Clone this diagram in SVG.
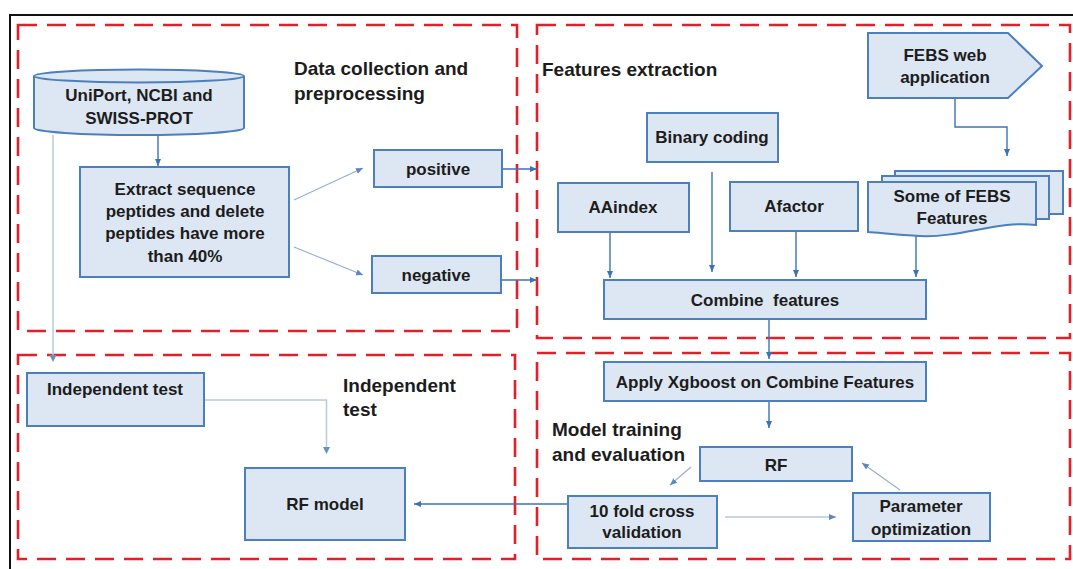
<svg xmlns="http://www.w3.org/2000/svg" width="1073" height="569" viewBox="0 0 1073 569">
<defs>
<style>
.frame{fill:none;stroke:#111;stroke-width:2}
.grp{fill:none;stroke:#e3202a;stroke-width:2.6;stroke-dasharray:19 10}
.box{fill:#dce7f3;stroke:#4b7fbd;stroke-width:2}
.t{font-family:"Liberation Sans",Arial,sans-serif;font-weight:bold;font-size:17px;fill:#1c1c1c;text-anchor:middle}
.title{font-family:"Liberation Sans",Arial,sans-serif;font-weight:bold;font-size:19px;fill:#1c1c1c}
.ar{fill:none;stroke:#3b72b8;stroke-width:1.4;marker-end:url(#ah)}
.lt{fill:none;stroke:#93add2;stroke-width:1.1;marker-end:url(#ah2)}
.vl{fill:none;stroke:#b9cae0;stroke-width:1.5}
</style>
<marker id="ah" markerUnits="userSpaceOnUse" markerWidth="8" markerHeight="8" refX="7" refY="4" orient="auto"><path d="M0,1 L7,4 L0,7 z" fill="#3b72b8"/></marker>
<marker id="ah2" markerUnits="userSpaceOnUse" markerWidth="8" markerHeight="8" refX="7" refY="4" orient="auto"><path d="M0,1 L7,4 L0,7 z" fill="#5d86bf"/></marker>
</defs>
<rect width="1073" height="569" fill="#fff"/>
<path class="frame" d="M10,569 V15 H1073"/>
<g id="groups">
<rect class="grp" x="18" y="25" width="499" height="306"/>
<rect class="grp" x="537" y="25" width="533" height="313"/>
<rect class="grp" x="18" y="355" width="497" height="204"/>
<rect class="grp" x="537" y="353" width="533" height="206"/>
</g>
<g id="titles">
<text class="title" x="294" y="75">Data collection and</text>
<text class="title" x="294" y="100">preprocessing</text>
<text class="title" x="542" y="76">Features extraction</text>
<text class="title" x="343" y="392">Independent</text>
<text class="title" x="343" y="416">test</text>
<text class="title" x="552" y="436">Model training</text>
<text class="title" x="552" y="461">and evaluation</text>
</g>
<g id="connectors">
<path class="vl" d="M53,135 V356"/>
<path d="M49.5,355 L53,362 L56.5,355 z" fill="#6a8fc2"/>
<path class="ar" d="M158,133 V166"/>
<path class="lt" d="M294,200 L363,168"/>
<path class="lt" d="M294,247 L363,275"/>
<path class="ar" d="M502,169 H537"/>
<path class="ar" d="M502,280 H537"/>
<path class="ar" d="M955,98 V127 H1007 V156"/>
<path class="ar" d="M610,232 V278"/>
<path class="ar" d="M712,172 V272"/>
<path class="ar" d="M796,231 V277"/>
<path class="ar" d="M916,236 V277"/>
<path class="ar" d="M769,319 V359"/>
<path class="ar" d="M769,401 V428"/>
<path class="lt" d="M691,467 L670,485"/>
<path class="lt" d="M725,517 H836"/>
<path class="lt" d="M900,490 L862,463"/>
<path class="ar" d="M568,504 H414"/>
<path class="vl" d="M204,400 H326.5 V448"/>
<path d="M323,447 L326.5,454 L330,447 z" fill="#6a8fc2"/>
</g>
<g id="db">
<path class="box" d="M34,76 V128 A105,7 0 0 0 244,128 V76"/>
<ellipse class="box" cx="139" cy="76" rx="105" ry="6.5"/>
<text class="t" x="139" y="101">UniPort, NCBI and</text>
<text class="t" x="139" y="124">SWISS-PROT</text>
</g>
<g id="extract">
<rect class="box" x="80" y="167" width="209" height="110"/>
<text class="t" x="185" y="195">Extract sequence</text>
<text class="t" x="185" y="217">peptides and delete</text>
<text class="t" x="185" y="239">peptides have more</text>
<text class="t" x="185" y="262">than 40%</text>
</g>
<g id="positive">
<rect class="box" x="374" y="150" width="128" height="37"/>
<text class="t" x="438" y="175">positive</text>
</g>
<g id="negative">
<rect class="box" x="372" y="256" width="129" height="37"/>
<text class="t" x="436" y="281">negative</text>
</g>
<g id="febs-web">
<path class="box" d="M868,33 H1008 L1042,66 L1008,98 H868 Z"/>
<text class="t" x="945" y="61">FEBS web</text>
<text class="t" x="945" y="83">application</text>
</g>
<g id="binary">
<rect class="box" x="647" y="113" width="131" height="49"/>
<text class="t" x="712" y="143">Binary coding</text>
</g>
<g id="aaindex">
<rect class="box" x="558" y="183" width="131" height="49"/>
<text class="t" x="623" y="213">AAindex</text>
</g>
<g id="afactor">
<rect class="box" x="730" y="182" width="128" height="49"/>
<text class="t" x="794" y="212">Afactor</text>
</g>
<g id="febs-features">
<path class="box" d="M895,176 V171 H1063 V214 H1049"/>
<path class="box" d="M882,182 V176 H1049 V219 H1036"/>
<path class="box" d="M868,182 H1036 V225 C1000,220 960,238 920,236 C898,235 882,233 868,232 Z"/>
<text class="t" x="952" y="202">Some of FEBS</text>
<text class="t" x="952" y="224">Features</text>
</g>
<g id="combine">
<rect class="box" x="604" y="280" width="322" height="39"/>
<text class="t" x="765" y="306">Combine&#160; features</text>
</g>
<g id="xgboost">
<rect class="box" x="604" y="362" width="322" height="39"/>
<text class="t" x="765" y="388">Apply Xgboost on Combine Features</text>
</g>
<g id="rf">
<rect class="box" x="700" y="447" width="152" height="34"/>
<text class="t" x="776" y="471">RF</text>
</g>
<g id="tenfold">
<rect class="box" x="568" y="496" width="149" height="52"/>
<text class="t" x="642" y="517">10 fold cross</text>
<text class="t" x="642" y="538">validation</text>
</g>
<g id="param">
<rect class="box" x="853" y="493" width="137" height="48"/>
<text class="t" x="921" y="512">Parameter</text>
<text class="t" x="921" y="535">optimization</text>
</g>
<g id="indep">
<rect class="box" x="27" y="373" width="177" height="53"/>
<text class="t" x="115" y="395">Independent test</text>
</g>
<g id="rfmodel">
<rect class="box" x="245" y="468" width="160" height="72"/>
<text class="t" x="325" y="510">RF model</text>
</g>
</svg>
